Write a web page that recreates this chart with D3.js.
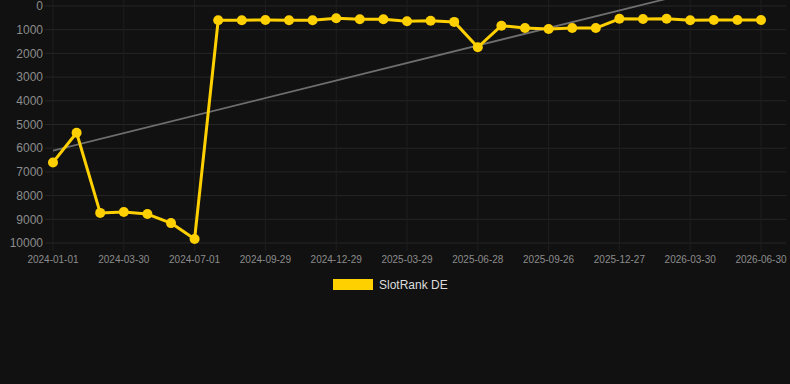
<!DOCTYPE html>
<html>
<head>
<meta charset="utf-8">
<script src="https://cdn.jsdelivr.net/npm/d3@7"></script>
<style>
body { margin:0; background:#111111; }
#chart { width:790px; height:384px; }
.tick text { font-family: "Liberation Sans", Arial, sans-serif; }
</style>
</head>
<body>
<div id="chart"></div>
<script>
// dates of each point (roughly monthly), labels shown every third one
var dates = ["2024-01-01","2024-01-31","2024-03-01","2024-03-30","2024-04-30","2024-05-31",
  "2024-07-01","2024-07-31","2024-08-30","2024-09-29","2024-10-29","2024-11-28",
  "2024-12-29","2025-01-28","2025-02-27","2025-03-29","2025-04-29","2025-05-29",
  "2025-06-28","2025-07-28","2025-08-27","2025-09-26","2025-10-26","2025-11-26",
  "2025-12-27","2026-01-27","2026-02-27","2026-03-30","2026-04-30","2026-05-31","2026-06-30"];

var rank = [6600, 5350, 8730, 8690, 8780, 9160, 9830, 600, 600, 590, 600, 600,
  520, 560, 560, 640, 620, 670, 1740, 830, 930, 970, 930, 930,
  540, 550, 540, 600, 590, 590, 590];

var trend = [6100, -1290]; // value at first and last date

var yTicks = [0,1000,2000,3000,4000,5000,6000,7000,8000,9000,10000];

var W = 790, H = 384;
var margin = {left:53, right:29, top:6, bottom:141};

var svg = d3.select("#chart").append("svg")
  .attr("width", W).attr("height", H);

var x = d3.scalePoint().domain(dates).range([margin.left, W - margin.right]);
var y = d3.scaleLinear().domain([0, 10000]).range([margin.top, H - margin.bottom]);

var g = svg.append("g");

// horizontal grid
g.selectAll(".hg").data(yTicks).enter().append("line")
  .attr("x1", 45).attr("x2", 786)
  .attr("y1", function(d){ return y(d); }).attr("y2", function(d){ return y(d); })
  .attr("stroke", "#262626").attr("stroke-width", 1);

var labelDates = dates.filter(function(d,i){ return i % 3 == 0; });

// vertical grid
g.selectAll(".vg").data(labelDates).enter().append("line")
  .attr("x1", function(d){ return x(d); }).attr("x2", function(d){ return x(d); })
  .attr("y1", 0).attr("y2", y(10000) + 8)
  .attr("stroke", "#1f1f1f").attr("stroke-width", 1);

// y axis labels
g.selectAll(".yl").data(yTicks).enter().append("text")
  .attr("x", 43).attr("y", function(d){ return y(d); })
  .attr("dy", "0.35em").attr("text-anchor", "end")
  .attr("fill", "#8c8c8c")
  .style("font", "12px 'Liberation Sans', Arial, sans-serif")
  .text(function(d){ return d; });

// x axis labels
g.selectAll(".xl").data(labelDates).enter().append("text")
  .attr("x", function(d){ return x(d); }).attr("y", 259)
  .attr("dy", "0.35em").attr("text-anchor", "middle")
  .attr("fill", "#8c8c8c")
  .style("font", "10px 'Liberation Sans', Arial, sans-serif")
  .text(function(d){ return d; });

// trend line, clipped to plot area
svg.append("clipPath").attr("id", "clip").append("rect")
  .attr("x", margin.left).attr("y", 0)
  .attr("width", W - margin.left).attr("height", H - margin.bottom);

g.append("line")
  .attr("clip-path", "url(#clip)")
  .attr("x1", x(dates[0])).attr("y1", y(trend[0]))
  .attr("x2", x(dates[dates.length-1])).attr("y2", y(trend[1]))
  .attr("stroke", "#6e6e6e").attr("stroke-width", 1.8);

// series line
var line = d3.line()
  .x(function(d,i){ return x(dates[i]); })
  .y(function(d){ return y(d); });

g.append("path").datum(rank)
  .attr("d", line)
  .attr("fill", "none")
  .attr("stroke", "#FFD000")
  .attr("stroke-width", 3)
  .attr("stroke-linejoin", "round");

g.selectAll(".pt").data(rank).enter().append("circle")
  .attr("cx", function(d,i){ return x(dates[i]); })
  .attr("cy", function(d){ return y(d); })
  .attr("r", 5)
  .attr("fill", "#FFD000");

// legend
svg.append("rect")
  .attr("x", 333).attr("y", 279).attr("width", 40).attr("height", 11)
  .attr("fill", "#FFD000");
svg.append("text")
  .attr("x", 379).attr("y", 285).attr("dy", "0.35em")
  .attr("fill", "#dddddd")
  .style("font", "12px 'Liberation Sans', Arial, sans-serif")
  .text("SlotRank DE");
</script>
</body>
</html>
